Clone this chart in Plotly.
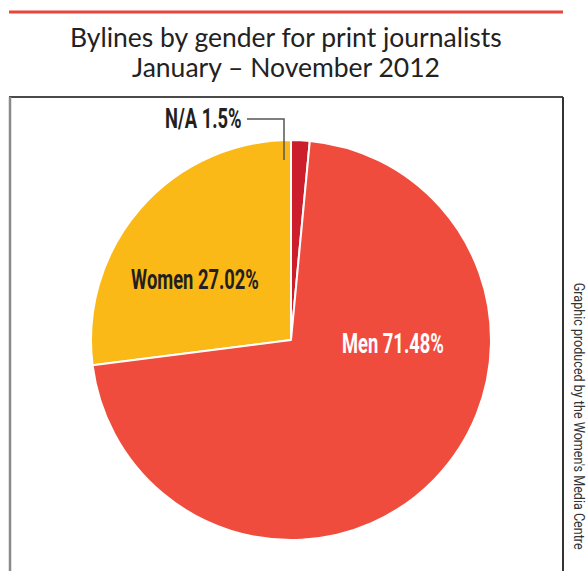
import plotly.graph_objects as go

W, H = 587, 571

# ---- data ----
categories = ["N/A", "Women", "Men"]
shares = [1.5, 27.02, 71.48]
slice_colors = ["#CD1F2B", "#FBB917", "#F04C3E"]
title_lines = ["Bylines by gender for print journalists", "January – November 2012"]
credit = "Graphic produced by the Women's Media Centre"


def px_x(x):
    return x / W


def px_y(y):
    return 1 - y / H


cx, cy, r = 291, 340, 200

fig = go.Figure(
    go.Pie(
        labels=categories,
        values=shares,
        sort=False,
        direction="counterclockwise",
        rotation=0,
        marker=dict(colors=slice_colors, line=dict(color="white", width=2)),
        textinfo="none",
        hoverinfo="label+value",
        showlegend=False,
        domain=dict(x=[px_x(cx - r), px_x(cx + r)], y=[px_y(cy + r), px_y(cy - r)]),
    )
)

label_family = "Roboto, DejaVu Sans, sans-serif"
label_pos = {"N/A": (203, 119), "Women": (195, 280), "Men": (393, 344)}
label_color = {"N/A": "#231f20", "Women": "#231f20", "Men": "white"}

annotations = []
for cat, val in zip(categories, shares):
    lx, ly = label_pos[cat]
    annotations.append(dict(
        x=px_x(lx), y=px_y(ly), xref="paper", yref="paper",
        text=f"<b>{cat} {val:g}%</b>", showarrow=False,
        xanchor="center", yanchor="middle",
        font=dict(family=label_family, size=27, color=label_color[cat]),
    ))

# credit (index 3)
annotations.append(dict(
    x=px_x(578), y=px_y(280), xref="paper", yref="paper",
    text=credit, showarrow=False, textangle=90,
    xanchor="center", yanchor="top",
    font=dict(family=label_family, size=14, color="#333333"),
))

for line, ty in zip(title_lines, [37, 67]):
    annotations.append(dict(
        x=0.5 * (px_x(9) + px_x(563)), y=px_y(ty), xref="paper", yref="paper",
        text=line, showarrow=False,
        xanchor="center", yanchor="middle",
        font=dict(family="Lato, Open Sans, sans-serif", size=26.5, color="#222222"),
    ))

shapes = [
    dict(type="line", xref="paper", yref="paper", x0=px_x(9), x1=px_x(563), y0=px_y(12), y1=px_y(12),
         line=dict(color="#E8453C", width=3)),
    dict(type="line", xref="paper", yref="paper", x0=px_x(9), x1=px_x(563), y0=px_y(97), y1=px_y(97),
         line=dict(color="#4a4a4a", width=2)),
    dict(type="line", xref="paper", yref="paper", x0=px_x(10), x1=px_x(10), y0=px_y(97), y1=px_y(575),
         line=dict(color="#8a8a8a", width=2.5)),
    dict(type="line", xref="paper", yref="paper", x0=px_x(563), x1=px_x(563), y0=px_y(97), y1=px_y(575),
         line=dict(color="#333333", width=2)),
    # leader line for N/A
    dict(type="path", xref="paper", yref="paper",
         path=f"M {px_x(247)} {px_y(119)} L {px_x(284)} {px_y(119)} L {px_x(284)} {px_y(160)}",
         line=dict(color="#555555", width=1.5)),
]

fig.update_layout(
    width=W, height=H,
    margin=dict(l=0, r=0, t=0, b=0),
    paper_bgcolor="white", plot_bgcolor="white",
    annotations=annotations, shapes=shapes,
)

# condense the label fonts horizontally (the original uses a condensed face)
condense_js = """
document.body.style.margin='0';document.body.style.overflow='hidden';
var gd=document.getElementById('{plot_id}');
var anns=gd.querySelectorAll('g.annotation');
function squeeze(i, k, fromStart){
  var g=anns[i].querySelector('g.annotation-text-g');
  var t=g.querySelector('text');
  var bb=t.getBBox();
  var ox = fromStart ? bb.x : bb.x+bb.width/2;
  var cur=t.getAttribute('transform')||'';
  t.setAttribute('transform', 'translate('+ox+',0) scale('+k+',1) translate('+(-ox)+',0) '+cur);
}
squeeze(0,0.68,false);squeeze(1,0.68,false);squeeze(2,0.68,false);squeeze(3,0.9,true);
"""

fig.write_html(
    "out.html",
    config={"displayModeBar": False},
    post_script=condense_js,
)
